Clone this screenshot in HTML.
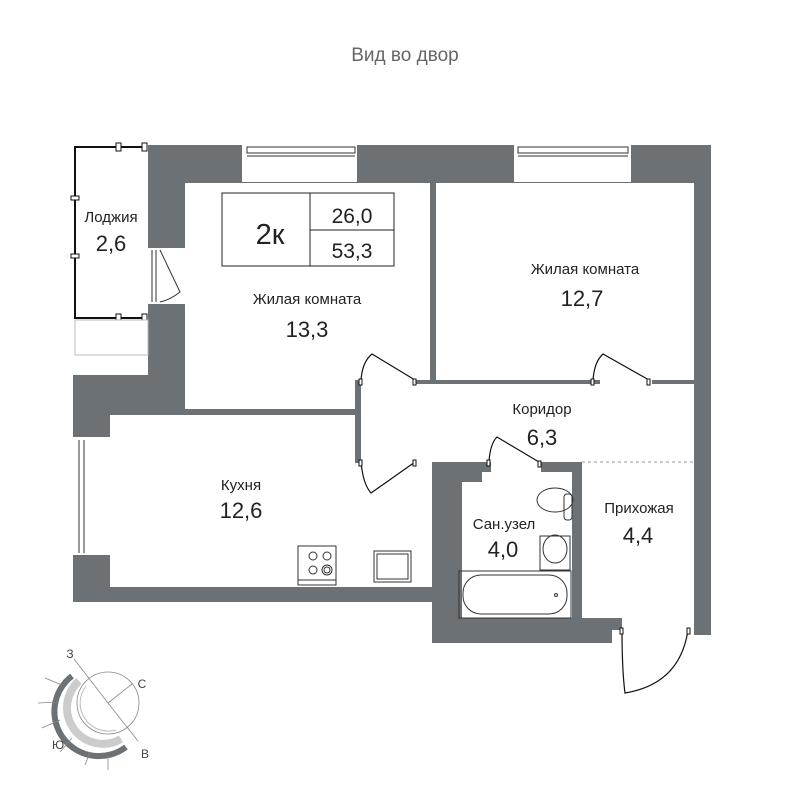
<!DOCTYPE html>
<html><head><meta charset="utf-8"><style>
html,body{margin:0;padding:0;background:#fff;}
svg{display:block;}
text{font-family:"Liberation Sans",sans-serif;fill:#222;}
</style></head><body>
<svg width="800" height="800" viewBox="0 0 800 800" xmlns="http://www.w3.org/2000/svg">
<text x="405" y="61" font-size="19" text-anchor="middle" style="fill:#666">Вид во двор</text>
<g fill="#6b7175">
<rect x="148" y="145" width="563" height="38"/>
<rect x="148" y="145" width="37" height="270"/>
<rect x="73" y="375" width="112" height="40"/>
<rect x="73" y="375" width="37" height="227"/>
<rect x="73" y="587" width="365" height="15"/>
<rect x="694" y="145" width="17" height="490"/>
<rect x="430" y="183" width="6" height="200"/>
<rect x="185" y="409" width="173" height="6"/>
<rect x="355" y="380" width="6" height="83"/>
<rect x="361" y="380" width="333" height="4"/>
<rect x="432" y="462" width="30" height="181"/>
<rect x="432" y="462" width="150" height="10"/>
<rect x="462" y="472" width="20" height="10"/>
<rect x="572" y="462" width="10" height="160"/>
<rect x="432" y="618" width="190" height="12"/>
<rect x="432" y="618" width="180" height="25"/>
</g>
<g fill="#fff">
<rect x="242" y="145" width="115" height="37"/>
<rect x="514" y="145" width="117" height="37"/>
<rect x="148" y="248" width="37" height="56"/>
<rect x="73" y="437" width="37" height="118"/>
<rect x="361" y="380" width="54" height="4"/>
<rect x="600" y="380" width="52" height="4"/>
<rect x="491" y="462" width="50" height="10"/>
<rect x="622" y="618" width="72" height="25"/>
</g>
<g stroke="#333" stroke-width="1" fill="none">
<rect x="247" y="147" width="108" height="6"/>
<line x1="247" y1="156" x2="355" y2="156"/>
<rect x="518" y="147" width="110" height="6"/>
<line x1="518" y1="156" x2="628" y2="156"/>
<line x1="152" y1="250" x2="152" y2="302"/><line x1="156" y1="250" x2="156" y2="302"/>
<path d="M160 250 L180 292 Q170 300 160 302"/>
<line x1="79" y1="440" x2="79" y2="553"/><line x1="84" y1="440" x2="84" y2="553"/>
</g>
<g stroke="#111" stroke-width="2" fill="none">
<polyline points="144,147 75,147 75,318 144,318"/>
</g>
<g stroke="#111" stroke-width="1" fill="#fff">
<rect x="116" y="143" width="5" height="8"/><rect x="142" y="143" width="5" height="8"/>
<rect x="116" y="314" width="5" height="8"/><rect x="142" y="314" width="5" height="8"/>
<rect x="71" y="196" width="8" height="4"/><rect x="71" y="254" width="8" height="4"/>
<rect x="75" y="320" width="73" height="35" stroke="#bbb"/>
</g>
<g stroke="#111" stroke-width="1.2" fill="none">
<path d="M361 381 Q362 362 372 354 L415 380"/>
<path d="M593 381 Q594 362 603 354 L649 380"/>
<path d="M361 462 Q363 484 371 493 L415 462"/>
<path d="M489 462 Q490 444 497 437 L539 462"/>
<path d="M622 630 Q622 670 625 693 Q680 684 688 630"/>
</g>
<g stroke="#111" stroke-width="1" fill="#fff">
<rect x="359" y="379" width="3" height="6"/><rect x="413" y="379" width="3" height="6"/>
<rect x="591" y="379" width="3" height="6"/><rect x="647" y="379" width="3" height="6"/>
<rect x="359" y="460" width="3" height="6"/><rect x="413" y="460" width="3" height="6"/>
<rect x="487" y="460" width="3" height="6"/><rect x="538" y="461" width="3" height="6"/>
<rect x="620" y="628" width="3" height="6"/><rect x="687" y="628" width="3" height="6"/>
</g>
<line x1="582" y1="462" x2="694" y2="462" stroke="#999" stroke-dasharray="3,3"/>
<g stroke="#222" stroke-width="1" fill="none">
<rect x="222" y="193" width="172" height="73"/>
<line x1="310" y1="193" x2="310" y2="266"/>
<line x1="310" y1="230" x2="394" y2="230"/>
</g>
<text x="270" y="244" font-size="29" text-anchor="middle">2к</text>
<text x="352" y="223" font-size="21" text-anchor="middle">26,0</text>
<text x="352" y="258" font-size="21" text-anchor="middle">53,3</text>
<g stroke="#333" stroke-width="1" fill="none">
<rect x="298" y="546" width="38" height="39"/><line x1="298" y1="580" x2="336" y2="580"/>
<circle cx="313" cy="556" r="4"/><circle cx="327" cy="556" r="4"/>
<circle cx="313" cy="570" r="4"/><circle cx="327" cy="570" r="5"/><circle cx="327" cy="570" r="3"/>
<rect x="374" y="551" width="37" height="31"/><rect x="377" y="554" width="31" height="25"/>
<rect x="459" y="571" width="112" height="47"/>
<rect x="463" y="575" width="104" height="39" rx="18"/>
<circle cx="556" cy="595" r="1.5"/>
<ellipse cx="555" cy="500" rx="18" ry="12"/><rect x="564" y="494" width="8" height="26" rx="3"/>
<rect x="540" y="536" width="30" height="34"/><ellipse cx="555" cy="549" rx="12" ry="14"/>
</g>
<g text-anchor="middle">
<text x="111" y="222" font-size="15">Лоджия</text>
<text x="111" y="251" font-size="22">2,6</text>
<text x="307" y="304" font-size="15">Жилая комната</text>
<text x="307" y="337" font-size="22">13,3</text>
<text x="585" y="274" font-size="15">Жилая комната</text>
<text x="582" y="306" font-size="22">12,7</text>
<text x="542" y="414" font-size="15">Коридор</text>
<text x="542" y="445" font-size="22">6,3</text>
<text x="241" y="490" font-size="15">Кухня</text>
<text x="241" y="518" font-size="22">12,6</text>
<text x="504" y="529" font-size="15">Сан.узел</text>
<text x="503" y="557" font-size="22">4,0</text>
<text x="639" y="513" font-size="15">Прихожая</text>
<text x="638" y="543" font-size="22">4,4</text>
</g>
<g stroke="#888" fill="none" stroke-width="0.8">
<circle cx="108" cy="703" r="31"/>
<path d="M72 676 A44 44 0 0 0 126 747" stroke="#6b7175" stroke-width="6"/>
<path d="M79 681 A36 36 0 0 0 121 739" stroke="#ccc" stroke-width="8"/>
<path d="M86 686 A28 28 0 0 0 116 730" stroke="#bbb" stroke-width="1"/>
<line x1="108" y1="703" x2="132" y2="684"/>
<line x1="108" y1="703" x2="74" y2="659"/>
<line x1="108" y1="703" x2="138" y2="741"/>
<line x1="62" y1="685" x2="45" y2="678"/><line x1="58" y1="702" x2="38" y2="703"/>
<line x1="60" y1="720" x2="42" y2="728"/><line x1="72" y1="738" x2="60" y2="752"/>
<line x1="90" y1="752" x2="85" y2="765"/><line x1="108" y1="756" x2="108" y2="770"/>
</g>
<g font-size="12" text-anchor="middle">
<text x="70" y="658" style="fill:#444">З</text>
<text x="142" y="688" style="fill:#444">С</text>
<text x="58" y="749" style="fill:#444">Ю</text>
<text x="145" y="758" style="fill:#444">В</text>
</g>
</svg>
</body></html>
